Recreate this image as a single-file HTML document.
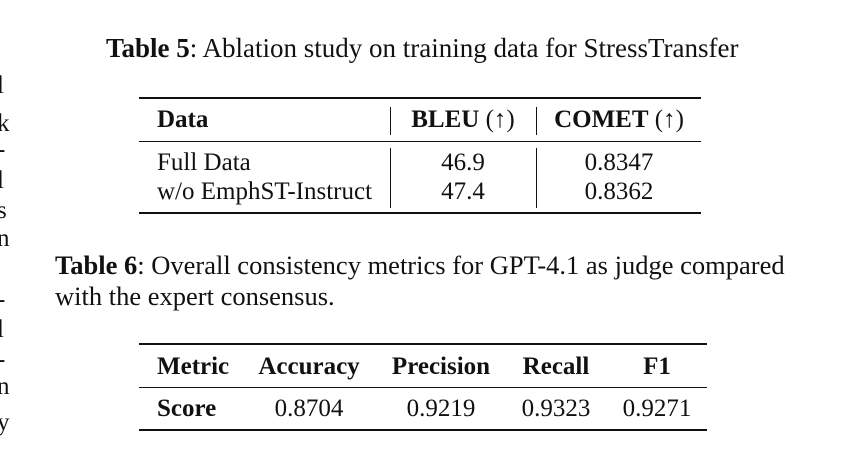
<!DOCTYPE html>
<html><head><meta charset="utf-8"><style>
body{margin:0;width:845px;height:455px;background:#fff;position:relative;overflow:hidden;font-family:"Liberation Serif",serif;color:#111}
.t{position:absolute;white-space:nowrap;line-height:1}
.r{position:absolute;background:#111}
.c{transform:translateX(-50%)}
.m{position:absolute;font-size:25px;line-height:1;left:-3px}
</style></head><body>
<div>
<div class="m" style="top:60px">.</div><div class="m" style="top:73px">l</div><div class="m" style="top:111px">k</div><div class="m" style="top:137px">-</div><div class="m" style="top:168px">l</div><div class="m" style="top:198px">s</div><div class="m" style="top:226px">n</div><div class="m" style="top:287px">-</div><div class="m" style="top:317px">l</div><div class="m" style="top:347px">-</div><div class="m" style="top:374px">n</div><div class="m" style="top:410px">y</div>
</div>
<div class="t" style="left:106px;top:35px;font-size:27px"><b>Table 5</b>: Ablation study on training data for StressTransfer</div>
<div>
<div class="r" style="left:139px;top:97px;width:562px;height:2px"></div>
<div class="r" style="left:139px;top:141px;width:562px;height:1px"></div>
<div class="r" style="left:139px;top:212px;width:562px;height:2px"></div>
<div class="r" style="left:390px;top:107px;width:1px;height:28px"></div>
<div class="r" style="left:536px;top:107px;width:1px;height:28px"></div>
<div class="r" style="left:390px;top:148px;width:1px;height:60px"></div>
<div class="r" style="left:536px;top:148px;width:1px;height:60px"></div>
<div class="t" style="left:157px;top:107px;font-size:25px;font-weight:bold">Data</div>
<div class="t c" style="left:463px;top:107px;font-size:25px"><b>BLEU</b> (↑)</div>
<div class="t c" style="left:619px;top:107px;font-size:25px"><b>COMET</b> (↑)</div>
<div class="t" style="left:157px;top:150px;font-size:25px">Full Data</div>
<div class="t c" style="left:463px;top:150px;font-size:25px">46.9</div>
<div class="t c" style="left:619px;top:150px;font-size:25px">0.8347</div>
<div class="t" style="left:157px;top:179px;font-size:25px">w/o EmphST-Instruct</div>
<div class="t c" style="left:463px;top:179px;font-size:25px">47.4</div>
<div class="t c" style="left:619px;top:179px;font-size:25px">0.8362</div>
</div>
<div class="t" style="left:55px;top:250px;font-size:26.5px;line-height:31px"><b>Table 6</b>: Overall consistency metrics for GPT-4.1 as judge compared<br>with the expert consensus.</div>
<div>
<div class="r" style="left:139px;top:343px;width:568px;height:2px"></div>
<div class="r" style="left:139px;top:387px;width:568px;height:1px"></div>
<div class="r" style="left:139px;top:429px;width:568px;height:2px"></div>
<div class="t" style="left:157px;top:354px;font-size:25px;font-weight:bold">Metric</div>
<div class="t c" style="left:309px;top:354px;font-size:25px;font-weight:bold">Accuracy</div>
<div class="t c" style="left:441px;top:354px;font-size:25px;font-weight:bold">Precision</div>
<div class="t c" style="left:556px;top:354px;font-size:25px;font-weight:bold">Recall</div>
<div class="t c" style="left:657px;top:354px;font-size:25px;font-weight:bold">F1</div>
<div class="t" style="left:157px;top:396px;font-size:25px;font-weight:bold">Score</div>
<div class="t c" style="left:309px;top:396px;font-size:25px">0.8704</div>
<div class="t c" style="left:441px;top:396px;font-size:25px">0.9219</div>
<div class="t c" style="left:556px;top:396px;font-size:25px">0.9323</div>
<div class="t c" style="left:657px;top:396px;font-size:25px">0.9271</div>
</div>
</body></html>
